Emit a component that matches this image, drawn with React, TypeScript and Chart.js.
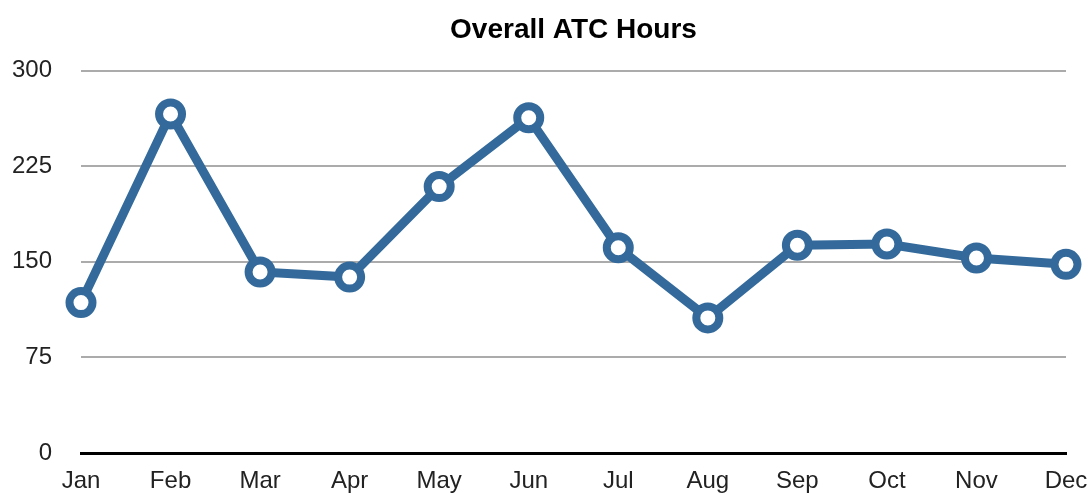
import React, { useEffect, useRef } from "react";
import { Chart, registerables } from "chart.js";

Chart.register(...registerables);

const months = ["Jan", "Feb", "Mar", "Apr", "May", "Jun", "Jul", "Aug", "Sep", "Oct", "Nov", "Dec"];
const atcHours = [118, 266, 142, 138, 209, 263, 161, 106, 163, 164, 153, 148];
const yTicks = [0, 75, 150, 225, 300];

export default function App() {
  const ref = useRef<HTMLCanvasElement | null>(null);
  useEffect(() => {
    document.body.style.margin = "0";
    const ctx = ref.current!.getContext("2d")!;
    const blue = "#336a9b";
    const font = "'Liberation Sans', Arial, sans-serif";
    const chart = new Chart(ctx, {
      type: "line",
      data: {
        labels: months,
        datasets: [
          {
            data: atcHours,
            borderColor: blue,
            borderWidth: 9,
            pointRadius: 11.5,
            pointBorderWidth: 8,
            pointBackgroundColor: "#ffffff",
            pointBorderColor: blue,
            tension: 0,
            clip: false as any,
          },
        ],
      },
      options: {
        responsive: false,
        animation: false,
        layout: { padding: { left: 0, right: 24, top: 0, bottom: 0 } },
        plugins: {
          legend: { display: false },
          tooltip: { enabled: false },
          title: {
            display: true,
            fullSize: false,
            text: "Overall ATC Hours",
            color: "#000",
            font: { family: font, size: 28, weight: "bold" },
            padding: { top: 13, bottom: 24 },
          },
        },
        scales: {
          x: {
            grid: { display: false },
            border: { display: true, color: "#000", width: 3 },
            ticks: {
              color: "#222",
              padding: 6,
              maxRotation: 0,
              autoSkip: false,
              font: { family: font, size: 24 },
            },
            afterFit: (s: any) => {
              s.height = 40;
              s.paddingLeft = 0;
              s.paddingRight = 0;
            },
          },
          y: {
            min: 0,
            max: 300,
            afterBuildTicks: (s: any) => {
              s.ticks = yTicks.map((v) => ({ value: v }));
            },
            grid: {
              drawTicks: false,
              lineWidth: 2,
              color: (c: any) => (c.tick && c.tick.value === 0 ? "rgba(0,0,0,0)" : "#ababab"),
            },
            border: { display: false },
            ticks: {
              color: "#222",
              padding: 29,
              font: { family: font, size: 24 },
            },
            afterFit: (s: any) => {
              s.width = 81;
              s.paddingTop = 0;
              s.paddingBottom = 0;
            },
          },
        },
      },
    });
    return () => chart.destroy();
  }, []);
  return <canvas ref={ref} width={1090} height={493} style={{ display: "block" }} />;
}
